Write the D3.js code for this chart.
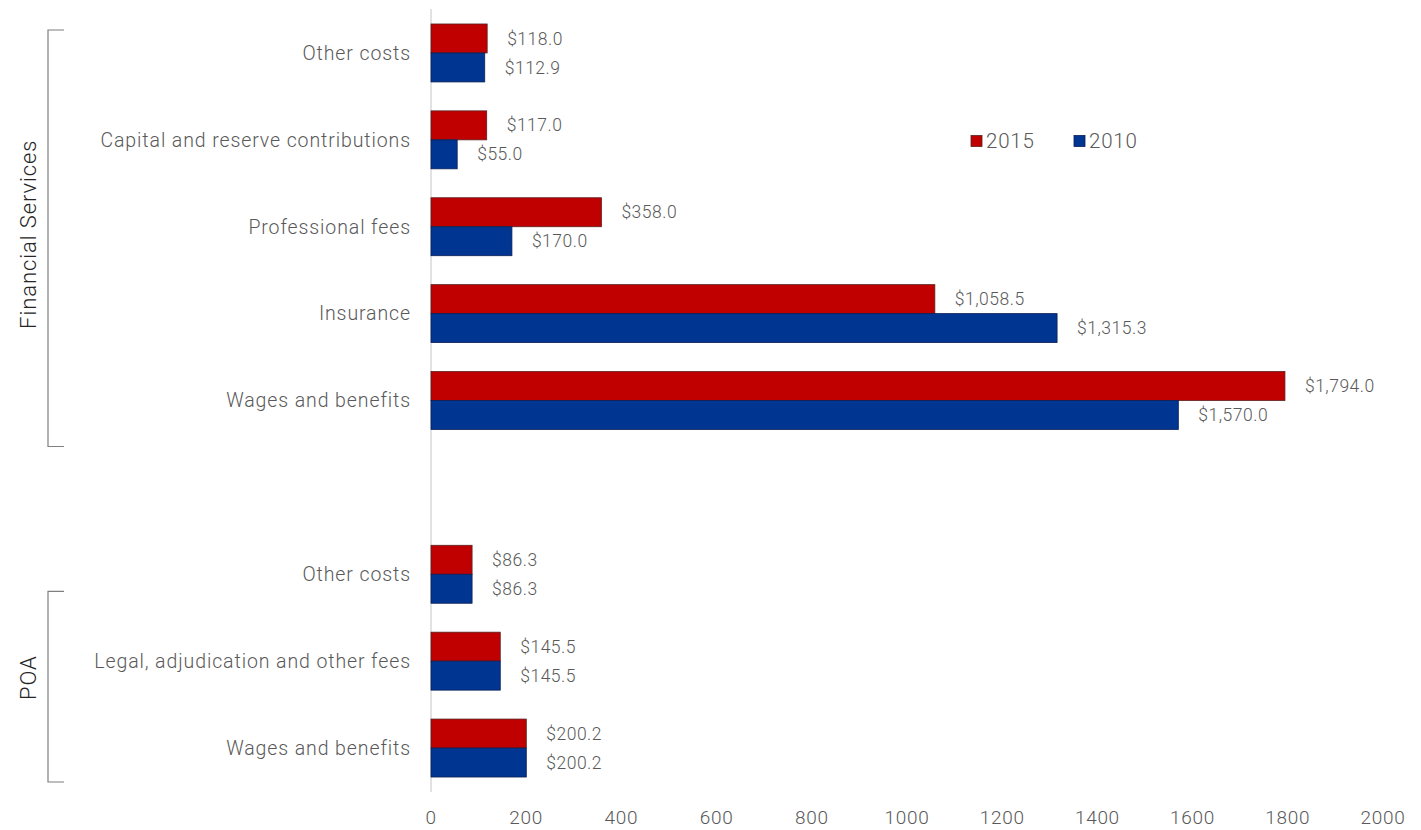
<!DOCTYPE html>
<html>
<head>
<meta charset="utf-8">
<script src="https://cdn.jsdelivr.net/npm/d3@7"></script>
<style>
  html, body { margin: 0; padding: 0; background: #ffffff; }
  svg { display: block; font-family: Roboto, "Liberation Sans", Arial, sans-serif; }
</style>
</head>
<body>
<svg id="chart" width="1421" height="830"></svg>
<script>
// Row labels, top to bottom (an empty row separates the two groups)
const categories = [
  "Other costs",
  "Capital and reserve contributions",
  "Professional fees",
  "Insurance",
  "Wages and benefits",
  "",
  "Other costs",
  "Legal, adjudication and other fees",
  "Wages and benefits"
];
const values2015 = [118.0, 117.0, 358.0, 1058.5, 1794.0, null, 86.3, 145.5, 200.2];
const values2010 = [112.9, 55.0, 170.0, 1315.3, 1570.0, null, 86.3, 145.5, 200.2];
const seriesNames = ["2015", "2010"];
const xTicks = [0, 200, 400, 600, 800, 1000, 1200, 1400, 1600, 1800, 2000];
const groups = [
  { name: "Financial Services", first: 0, last: 4 },
  { name: "POA", first: 6, last: 8 }
];

const colors = { "2015": "#C00000", "2010": "#003591" };
const strokes = { "2015": "#5a2020", "2010": "#0a1f55" };
const textColor = "#595959";

const svg = d3.select("#chart");

const x = d3.scaleLinear().domain([0, 2000]).range([431, 1383]);
const rows = d3.range(categories.length);
const y = d3.scaleBand().domain(rows).range([9.5, 791.5])
  .paddingInner(0.333).paddingOuter(0.1667);
const sub = d3.scaleBand().domain(seriesNames).range([0, y.bandwidth()]);

const fmt = v => "$" + d3.format(",.1f")(v);

// Vertical category axis line
svg.append("line")
  .attr("x1", x(0)).attr("x2", x(0))
  .attr("y1", 9).attr("y2", 792)
  .attr("stroke", "#d9d9d9").attr("stroke-width", 1.5);

// Bars
const series = [
  { name: "2015", values: values2015 },
  { name: "2010", values: values2010 }
];
series.forEach(s => {
  const data = rows.filter(i => s.values[i] != null).map(i => ({ i, v: s.values[i] }));
  svg.append("g").selectAll("rect").data(data).join("rect")
    .attr("x", x(0))
    .attr("y", d => y(d.i) + sub(s.name))
    .attr("width", d => x(d.v) - x(0))
    .attr("height", sub.bandwidth())
    .attr("fill", colors[s.name])
    .attr("stroke", strokes[s.name])
    .attr("stroke-width", 0.8);
  svg.append("g").selectAll("text").data(data).join("text")
    .attr("x", d => x(d.v) + 20)
    .attr("y", d => y(d.i) + sub(s.name) + sub.bandwidth() / 2)
    .attr("dy", "0.35em")
    .attr("font-size", 17.5)
    .attr("font-weight", 300)
    .attr("letter-spacing", 0.5)
    .attr("fill", textColor)
    .text(d => fmt(d.v));
});

// Category labels
svg.append("g").selectAll("text").data(rows.filter(i => categories[i] !== "")).join("text")
  .attr("x", 411)
  .attr("y", i => y(i) + y.bandwidth() / 2)
  .attr("dy", "0.35em")
  .attr("text-anchor", "end")
  .attr("font-size", 19.5)
  .attr("font-weight", 300)
  .attr("letter-spacing", 0.9)
  .attr("fill", textColor)
  .text(i => categories[i]);

// Value axis tick labels
svg.append("g").selectAll("text").data(xTicks).join("text")
  .attr("x", d => x(d))
  .attr("y", 817)
  .attr("dy", "0.35em")
  .attr("text-anchor", "middle")
  .attr("font-size", 19)
  .attr("font-weight", 300)
  .attr("letter-spacing", 0.7)
  .attr("fill", textColor)
  .text(d => d);

// Group brackets with rotated names
const bracketX = 48, bracketTick = 16;
const bracketSpan = g => {
  if (g.first === 0) {
    return [y(g.first) + 6, y(g.last) + y.bandwidth() + 17];
  }
  return [y(g.first) + 46, y(g.last) + y.bandwidth() + 5];
};
groups.forEach(g => {
  const [t, b] = bracketSpan(g);
  svg.append("path")
    .attr("d", `M${bracketX + bracketTick},${t} H${bracketX} V${b} H${bracketX + bracketTick}`)
    .attr("fill", "none")
    .attr("stroke", "#7f7f7f")
    .attr("stroke-width", 1.2);
  const cy = g.first === 0 ? (t + b) / 2 - 4 : (t + b) / 2 - 9;
  svg.append("text")
    .attr("transform", `translate(28,${cy}) rotate(-90)`)
    .attr("dy", "0.35em")
    .attr("text-anchor", "middle")
    .attr("font-size", 22)
    .attr("font-weight", 300)
    .attr("letter-spacing", 0.9)
    .attr("fill", "#262626")
    .text(g.name);
});

// Legend
const legend = svg.append("g");
const legendX = { "2015": 971, "2010": 1074 };
seriesNames.forEach(n => {
  legend.append("rect")
    .attr("x", legendX[n]).attr("y", 135.5)
    .attr("width", 11).attr("height", 11)
    .attr("fill", colors[n])
    .attr("stroke", strokes[n]).attr("stroke-width", 0.8);
  legend.append("text")
    .attr("x", legendX[n] + 15)
    .attr("y", 141)
    .attr("dy", "0.35em")
    .attr("font-size", 20.5)
    .attr("font-weight", 300)
    .attr("letter-spacing", 0.8)
    .attr("fill", textColor)
    .text(n);
});
</script>
</body>
</html>
